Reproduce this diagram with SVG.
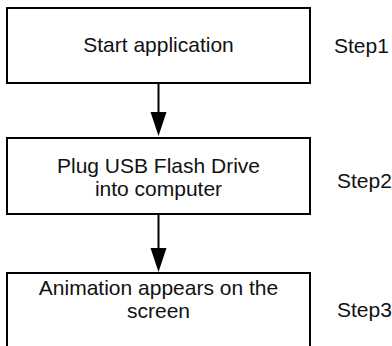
<svg xmlns="http://www.w3.org/2000/svg" width="392" height="346" viewBox="0 0 392 346">
<style>
.box{fill:#fff;stroke:#000;stroke-width:2}
.t{font-family:"Liberation Sans",Arial,sans-serif;font-size:21px;fill:#111;text-anchor:middle}
.s{font-family:"Liberation Sans",Arial,sans-serif;font-size:21px;fill:#111}
.c{stroke:#000;stroke-width:2;fill:none}
</style>
<rect width="392" height="346" fill="#fff"/>
<g id="connectors">
<line class="c" x1="158.5" y1="83" x2="158.5" y2="114"/>
<polygon points="150.5,112 166.5,112 158.5,136" fill="#000"/>
<line class="c" x1="158.5" y1="214" x2="158.5" y2="250"/>
<polygon points="150.5,248 166.5,248 158.5,272" fill="#000"/>
</g>
<g id="node1">
<rect class="box" x="7" y="8" width="303" height="75"/>
<text class="t" x="158.5" y="52">Start application</text>
</g>
<g id="node2">
<rect class="box" x="7" y="138" width="303" height="76"/>
<text class="t" x="158.5" y="173">Plug USB Flash Drive</text>
<text class="t" x="158.5" y="196">into computer</text>
</g>
<g id="node3">
<rect class="box" x="7" y="273" width="303" height="90"/>
<text class="t" x="158.5" y="295">Animation appears on the</text>
<text class="t" x="158.5" y="318">screen</text>
</g>
<g id="labels">
<text class="s" x="334" y="53">Step1</text>
<text class="s" x="337" y="188">Step2</text>
<text class="s" x="337" y="317">Step3</text>
</g>
</svg>
